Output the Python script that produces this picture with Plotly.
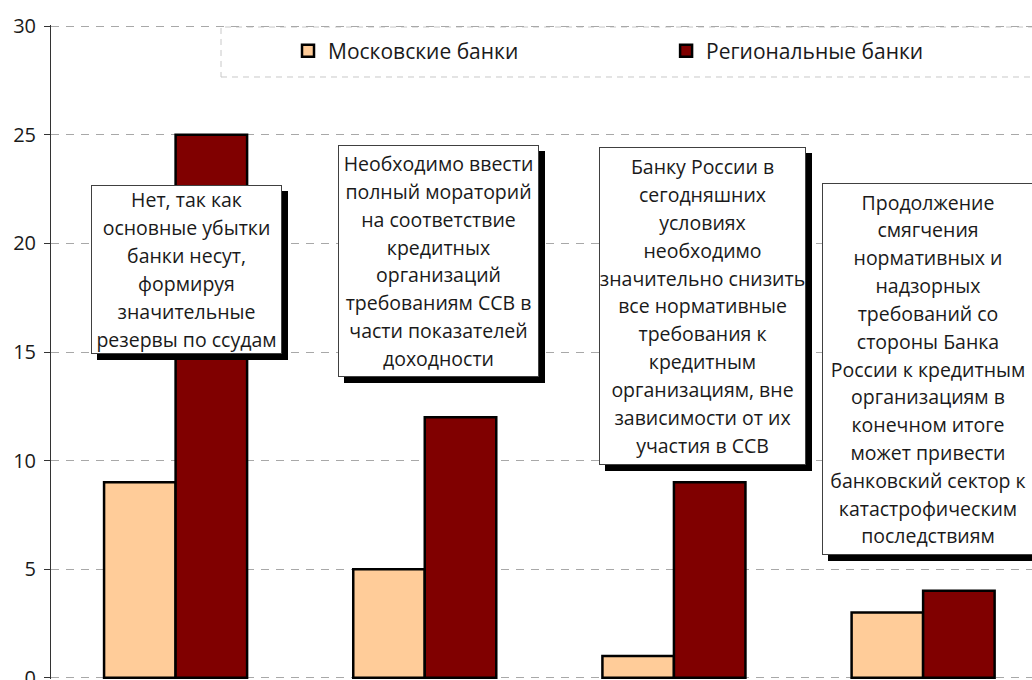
import plotly.graph_objects as go

# Survey answers shown as captions above each group of bars
answers = [
    ["Нет, так как", "основные убытки", "банки несут,", "формируя",
     "значительные", "резервы по ссудам"],
    ["Необходимо ввести", "полный мораторий", "на соответствие", "кредитных",
     "организаций", "требованиям ССВ в", "части показателей", "доходности"],
    ["Банку России в", "сегодняшних", "условиях", "необходимо",
     "значительно снизить", "все нормативные", "требования к", "кредитным",
     "организациям, вне", "зависимости от их", "участия в ССВ"],
    ["Продолжение", "смягчения", "нормативных и", "надзорных", "требований со",
     "стороны Банка", "России к кредитным", "организациям в", "конечном итоге",
     "может привести", "банковский сектор к", "катастрофическим", "последствиям"],
]
categories = [" ".join(lines) for lines in answers]

series_names = ["Московские банки", "Региональные банки"]
moscow_banks = [9, 5, 1, 3]
regional_banks = [25, 12, 9, 4]

y_ticks = [0, 5, 10, 15, 20, 25, 30]

FONT = "Open Sans"
TEXT_COLOR = "#1a1a1a"
MOSCOW_COLOR = "#FFCC99"
REGIONAL_COLOR = "#800000"

fig = go.Figure()
fig.add_trace(go.Bar(
    name=series_names[0], x=categories, y=moscow_banks, legend="legend",
    marker=dict(color=MOSCOW_COLOR, line=dict(color="#000000", width=2.5)),
))
fig.add_trace(go.Bar(
    name=series_names[1], x=categories, y=regional_banks, legend="legend2",
    marker=dict(color=REGIONAL_COLOR, line=dict(color="#000000", width=2.5)),
))

# Caption boxes: (horizontal shift from group centre, top in paper units, width, height)
box_layout = [
    (11, 0.7554, 189, 167),
    (14, 0.8165, 199, 230),
    (29, 0.8135, 205, 316),
    (5, 0.7584, 210, 370),
]

annotations = []
for cat, lines, (dx, top, w, h) in zip(categories, answers, box_layout):
    text = "<br>".join(f"<span style='font-size:19.5px'>{ln}</span>" for ln in lines)
    # drop shadow: an empty box of the same size, offset down and right
    annotations.append(dict(
        x=cat, xref="x", y=top, yref="paper", xanchor="center", yanchor="top",
        xshift=dx + 6, yshift=-6, text=" ", showarrow=False,
        font=dict(family=FONT, size=21.4, color="#000000"),
        bgcolor="#000000", bordercolor="#000000", borderwidth=1, borderpad=0,
        width=w, height=h,
    ))
    annotations.append(dict(
        x=cat, xref="x", y=top, yref="paper", xanchor="center", yanchor="top",
        xshift=dx, text=text, showarrow=False,
        font=dict(family=FONT, size=21.4, color=TEXT_COLOR),
        bgcolor="#ffffff", bordercolor="#404040", borderwidth=1, borderpad=0,
        width=w, height=h, align="center", valign="middle",
    ))

legend_style = dict(
    orientation="h", xanchor="left", y=0.960, yanchor="middle",
    bgcolor="rgba(0,0,0,0)", borderwidth=0, itemwidth=30,
    font=dict(family=FONT, size=21, color=TEXT_COLOR),
    itemclick=False, itemdoubleclick=False,
)

fig.update_layout(
    width=1032, height=680,
    margin=dict(l=51, r=0, t=25, b=1, autoexpand=False),
    paper_bgcolor="#ffffff", plot_bgcolor="#ffffff",
    font=dict(family=FONT, size=18, color=TEXT_COLOR),
    barmode="group", bargap=0.426, bargroupgap=0,
    showlegend=True,
    legend=dict(x=0.2416, **legend_style),
    legend2=dict(x=0.627, **legend_style),
    shapes=[dict(
        type="rect", xref="paper", yref="paper",
        x0=0.1733, x1=1.05, y0=0.9205, y1=0.9969,
        line=dict(color="#c8c8c8", width=1, dash="6px,5px"),
        fillcolor="rgba(0,0,0,0)", layer="below",
    )],
    annotations=annotations,
    xaxis=dict(
        type="category", range=[-0.5, 3.437], showticklabels=False,
        showgrid=False, zeroline=False, showline=False, ticks="",
        fixedrange=True, automargin=False,
    ),
    yaxis=dict(
        range=[-0.06, 30.06], tickvals=y_ticks, ticks="outside", ticklen=6,
        tickcolor="#333333", tickwidth=1,
        showline=True, linecolor="#333333", linewidth=1,
        showgrid=True, gridcolor="#a8a8a8", gridwidth=1, griddash="8px,7px",
        zeroline=False, ticklabelstandoff=4, ticklabeloverflow="allow",
        tickfont=dict(family=FONT, size=20, color=TEXT_COLOR),
        fixedrange=True, automargin=False,
    ),
)

fig.write_html("out.html", config={"displayModeBar": False})
